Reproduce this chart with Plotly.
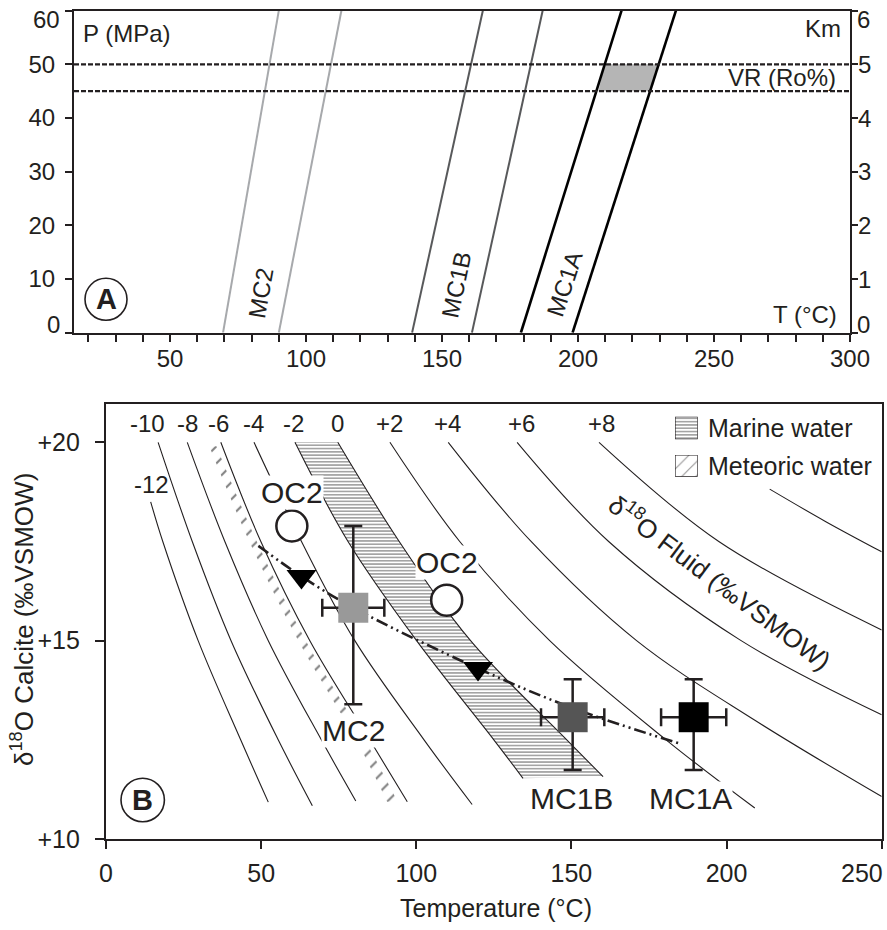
import plotly.graph_objects as go

W, H = 887, 930
FONT = "Liberation Sans, Arial, Helvetica, sans-serif"
INK = "#231f20"


def fx(x):
    return x / W


def fy(y):
    return 1 - y / H


# ---------------- Panel A data ----------------
A_T_tickvals = list(range(20, 301, 10))
A_T_ticktext = [str(v) if v % 50 == 0 else "" for v in A_T_tickvals]
A_P_ticks = [0, 10, 20, 30, 40, 50, 60]
A_P_ticktext = ["", "10", "20", "30", "40", "50", ""]
A_Km_ticks = [0, 1, 2, 3, 4, 5, 6]
A_Km_ticktext = ["", "1", "2", "3", "4", "5", ""]

geo_P = [0, 60]
mc2_T_lo = [69.5, 90.0]
mc2_T_hi = [90.0, 113.0]
mc1b_T_lo = [139.0, 165.0]
mc1b_T_hi = [161.0, 187.0]
mc1a_T_lo = [179.0, 216.0]
mc1a_T_hi = [198.0, 236.0]

vr_P = [45, 50]
vr_fill_T = [207.5, 226.5, 229.7, 209.8]
vr_fill_P = [45, 45, 50, 50]

# ---------------- Panel B data ----------------
B_T_ticks = [0, 50, 100, 150, 200, 250]
B_T_ticktext = ["0", "50", "100", "150", "200", ""]
B_d_ticks = [10, 15, 20]
B_d_ticktext = ["+10", "+15", "+20"]

# delta18O fluid iso-lines: temperature / calcite d18O
iso_m12_T = [14.4, 18.3, 29.7, 43.4, 52.3]
iso_m12_d = [18.5, 17.5, 15.0, 12.5, 10.93]
iso_m10_T = [16.8, 27.8, 40.3, 55.5, 66.5]
iso_m10_d = [20.0, 17.5, 15.0, 12.5, 10.84]
iso_m8_T = [26.2, 38.3, 52.3, 69.4, 80.5]
iso_m8_d = [20.0, 17.5, 15.0, 12.5, 10.96]
iso_m6_T = [37.0, 49.9, 65.7, 85.0, 97.1]
iso_m6_d = [20.0, 17.5, 15.0, 12.5, 10.94]
iso_m4_T = [47.7, 63.0, 80.2, 102.5, 118.0]
iso_m4_d = [20.0, 17.5, 15.0, 12.5, 10.87]
iso_m2_T = [60.9, 78.0, 100.1, 125.0, 134.4]
iso_m2_d = [20.0, 17.5, 15.0, 12.5, 11.53]
iso_0_T = [74.7, 94.5, 117.5, 148.5, 160.2]
iso_0_d = [20.0, 17.5, 15.0, 12.5, 11.57]
iso_p2_T = [91.5, 114.0, 143.0, 180.5, 209.1]
iso_p2_d = [20.0, 17.5, 15.0, 12.5, 10.78]
iso_p4_T = [110.3, 137.0, 171.0, 209.0, 250.0]
iso_p4_d = [20.0, 17.5, 15.0, 13.0, 11.07]
iso_p6_T = [132.5, 162.0, 204.3, 250.0]
iso_p6_d = [20.0, 17.5, 15.02, 13.13]
iso_p8_T = [158.9, 197.5, 250.0]
iso_p8_d = [20.0, 17.5, 15.27]
iso_p10_T = [213.9, 232.0, 250.0]
iso_p10_d = [18.82, 18.0, 17.24]

iso_labels = ["-10", "-8", "-6", "-4", "-2", "0", "+2", "+4", "+6", "+8"]
iso_label_T = [13.5, 26.3, 36.4, 47.4, 60.3, 74.7, 91.5, 109.9, 133.9, 159.7]
iso_label_d = 20.48

# meteoric water band (narrow strip of hatch marks left of the -6 line)
met_d = [19.9, 17.5, 15.0, 12.5, 10.94]
met_left_T = [33.3, 46.2, 62.0, 80.6, 90.6]
met_right_T = [35.6, 48.6, 64.4, 83.4, 94.0]

# samples
mc_names = ["MC2", "MC1B", "MC1A"]
mc_T = [79.7, 150.4, 189.4]
mc_d = [15.83, 13.07, 13.07]
mc_T_err = [10.0, 10.2, 10.5]
mc_d_err_plus = [2.06, 0.96, 0.96]
mc_d_err_minus = [2.43, 1.33, 1.33]
mc_colors = ["#999999", "#555555", "#000000"]
mc_label_T = [79.7, 150.1, 188.4]
mc_label_d = [12.73, 11.01, 11.01]

oc_T = [59.9, 109.8]
oc_d = [17.89, 16.02]
oc_label_T = [59.8, 110.0]
oc_label_d = [18.73, 16.96]

path_T = [49.1, 63.0, 79.7, 119.9, 150.4, 185.5]
path_d = [17.39, 16.62, 15.83, 14.30, 13.30, 12.39]
arrow_T = [63.0, 119.9]
arrow_d = [16.62, 14.30]

legend_box_x = [0, 1, 1, 0, 0]
legend_box_y = [0, 0, 1, 1, 0]

MARINE_PATTERN = dict(shape="-", size=3.3, solidity=0.42, fgcolor="#262626")
METEORIC_PATTERN = dict(shape="/", size=12, solidity=0.17, fgcolor="#000000")
METEORIC_LEGEND_PATTERN = dict(shape="/", size=10, solidity=0.1, fgcolor=INK)

fig = go.Figure()

# ---------- Panel A traces ----------
fig.add_trace(go.Scatter(x=vr_fill_T, y=vr_fill_P, fill="toself", fillcolor="#b5b5b5",
                         mode="lines", line=dict(width=0), xaxis="x", yaxis="y"))
for T, col, wd in [(mc2_T_lo, "#a7a9ac", 2), (mc2_T_hi, "#a7a9ac", 2),
                   (mc1b_T_lo, "#58595b", 2), (mc1b_T_hi, "#58595b", 2),
                   (mc1a_T_lo, "#000000", 2.6), (mc1a_T_hi, "#000000", 2.6)]:
    fig.add_trace(go.Scatter(x=T, y=geo_P, mode="lines", line=dict(color=col, width=wd),
                             xaxis="x", yaxis="y"))
# invisible trace on the Km axis so it is laid out with data
fig.add_trace(go.Scatter(x=[None], y=[None], mode="lines", xaxis="x", yaxis="y2",
                         showlegend=False))

# ---------- Panel B traces ----------
XB, YB = "x2", "y3"
fig.add_trace(go.Scatter(x=met_left_T, y=met_d, mode="lines", line=dict(width=0, shape="spline"),
                         xaxis=XB, yaxis=YB))
fig.add_trace(go.Scatter(x=met_right_T, y=met_d, mode="lines", line=dict(width=0, shape="spline"),
                         fill="tonexty", fillcolor="rgba(255,255,255,0)",
                         fillpattern=METEORIC_PATTERN, xaxis=XB, yaxis=YB))

iso_list = [(iso_m12_T, iso_m12_d), (iso_m10_T, iso_m10_d), (iso_m8_T, iso_m8_d),
            (iso_m6_T, iso_m6_d), (iso_m4_T, iso_m4_d), (iso_m2_T, iso_m2_d),
            (iso_0_T, iso_0_d), (iso_p2_T, iso_p2_d), (iso_p4_T, iso_p4_d),
            (iso_p6_T, iso_p6_d), (iso_p8_T, iso_p8_d), (iso_p10_T, iso_p10_d)]
for T, d in iso_list:
    kw = {}
    if T is iso_0_T:
        kw = dict(fill="tonexty", fillcolor="rgba(255,255,255,0)", fillpattern=MARINE_PATTERN)
    fig.add_trace(go.Scatter(x=T, y=d, mode="lines", line=dict(color=INK, width=1.1, shape="spline"),
                             xaxis=XB, yaxis=YB, **kw))

fig.add_trace(go.Scatter(x=path_T, y=path_d, mode="lines",
                         line=dict(color=INK, width=2.6, shape="spline",
                                   dash="12px,4px,2px,4px,2px,4px"),
                         xaxis=XB, yaxis=YB))
fig.add_trace(go.Scatter(x=arrow_T, y=arrow_d, mode="markers",
                         marker=dict(symbol="triangle-down", size=26, color="#000000"),
                         xaxis=XB, yaxis=YB))

for i in range(len(mc_names)):
    fig.add_trace(go.Scatter(
        x=[mc_T[i]], y=[mc_d[i]], mode="markers",
        marker=dict(symbol="square", size=30, color=mc_colors[i], line=dict(width=0)),
        error_x=dict(type="data", array=[mc_T_err[i]], color=INK, thickness=2.5, width=9),
        error_y=dict(type="data", symmetric=False, array=[mc_d_err_plus[i]],
                     arrayminus=[mc_d_err_minus[i]], color=INK, thickness=2.5, width=9),
        xaxis=XB, yaxis=YB))

fig.add_trace(go.Scatter(x=oc_T, y=oc_d, mode="markers",
                         marker=dict(symbol="circle", size=31, color="white",
                                     line=dict(color=INK, width=2.5)),
                         xaxis=XB, yaxis=YB))

fig.add_trace(go.Scatter(x=legend_box_x, y=legend_box_y, mode="lines", fill="toself",
                         fillcolor="white", line=dict(color=INK, width=1.2),
                         fillpattern=MARINE_PATTERN, xaxis="x4", yaxis="y5"))
fig.add_trace(go.Scatter(x=legend_box_x, y=legend_box_y, mode="lines", fill="toself",
                         fillcolor="white", line=dict(color=INK, width=1.2),
                         fillpattern=METEORIC_LEGEND_PATTERN, xaxis="x5", yaxis="y6"))

# ---------- Layout ----------
tickfontA = dict(family=FONT, size=24, color=INK)
tickfontB = dict(family=FONT, size=25, color=INK)

xA = [fx(74), fx(850)]
yA = [fy(332.7), fy(10.7)]
xBd = [fx(106), fx(881.7)]
yBd = [fy(839), fy(404)]

hidden = dict(visible=False, range=[0, 1], fixedrange=True, automargin=False)
common = dict(showgrid=False, zeroline=False, automargin=False, tickcolor=INK,
              ticklabeloverflow="allow")

layout = dict(
    width=W, height=H, margin=dict(l=0, r=0, t=0, b=0, autoexpand=False),
    paper_bgcolor="white", plot_bgcolor="rgba(0,0,0,0)",
    showlegend=False, hovermode=False,
    font=dict(family=FONT, color=INK),
    xaxis=dict(domain=xA, range=[14.7, 300], anchor="y", tickmode="array",
               tickvals=A_T_tickvals, ticktext=A_T_ticktext, ticks="outside", ticklen=7,
               tickwidth=2, showline=True, linewidth=2, linecolor=INK,
               mirror=True, tickfont=tickfontA, ticklabelstandoff=-4, **common),
    yaxis=dict(domain=yA, range=[0, 60], anchor="x", tickmode="array", tickvals=A_P_ticks,
               ticktext=A_P_ticktext, ticks="outside", ticklen=7, tickwidth=2, showline=True,
               linewidth=2, linecolor=INK, mirror=True, tickfont=tickfontA,
               ticklabelstandoff=5, **common),
    yaxis2=dict(overlaying="y", side="right", anchor="x", range=[0, 6], tickmode="array",
                tickvals=A_Km_ticks, ticktext=["", "", "", "", "", "", ""], ticks="outside",
                ticklen=7, tickwidth=2, showline=False, tickfont=tickfontA, **common),
    xaxis2=dict(domain=xBd, range=[0, 250], anchor="y3", tickmode="array", tickvals=B_T_ticks,
                ticktext=B_T_ticktext, ticks="outside", ticklen=8, tickwidth=2, showline=True,
                linewidth=2.2, linecolor=INK, mirror=True, tickfont=tickfontB,
                ticklabelstandoff=3, **common),
    yaxis3=dict(domain=yBd, range=[10, 20.966], anchor="x2", tickmode="array",
                tickvals=B_d_ticks, ticktext=B_d_ticktext, ticks="outside", ticklen=9,
                tickwidth=2, showline=True, linewidth=2.2, linecolor=INK,
                mirror=True, tickfont=tickfontB, ticklabelstandoff=10, **common),
    xaxis3=dict(overlaying="x2", anchor="y3", range=[0, 250], tickmode="array",
                tickvals=B_T_ticks, ticks="inside", ticklen=9, tickwidth=2,
                showticklabels=False, showline=False, **common),
    yaxis4=dict(overlaying="y3", anchor="x2", side="left", range=[10, 20.966],
                tickmode="array", tickvals=B_d_ticks, ticks="inside", ticklen=9,
                tickwidth=2, showticklabels=False, showline=False, **common),
    xaxis4=dict(domain=[fx(675), fx(697.7)], anchor="y5", **hidden),
    yaxis5=dict(domain=[fy(439.3), fy(416.7)], anchor="x4", **hidden),
    xaxis5=dict(domain=[fx(675), fx(697.7)], anchor="y6", **hidden),
    yaxis6=dict(domain=[fy(476.7), fy(455)], anchor="x5", **hidden),
)
fig.update_layout(**layout)

for p in vr_P:
    fig.add_shape(type="line", xref="x domain", yref="y", x0=0, x1=1, y0=p, y1=p,
                  line=dict(color=INK, width=2.2, dash="5px,2px"))

for cx, cy, r in [(106, 299.3, 21), (142.7, 800, 21.7)]:
    fig.add_shape(type="circle", xref="paper", yref="paper",
                  x0=fx(cx - r), x1=fx(cx + r), y0=fy(cy + r), y1=fy(cy - r),
                  line=dict(color=INK, width=1.6))

ann = []


def text_paper(t, x, y, size, xanchor="center", yanchor="middle", angle=0, bg=None, bold=False):
    d = dict(text=("<b>%s</b>" % t) if bold else t, x=fx(x), y=fy(y), xref="paper", yref="paper",
             showarrow=False, xanchor=xanchor, yanchor=yanchor, textangle=angle,
             font=dict(family=FONT, size=size, color=INK), borderpad=0)
    if bg:
        d["bgcolor"] = bg
    ann.append(d)


def text_data(t, x, y, size, bg=None, angle=0):
    d = dict(text=t, x=x, y=y, xref="x2", yref="y3", showarrow=False, xanchor="center",
             yanchor="middle", textangle=angle, font=dict(family=FONT, size=size, color=INK),
             borderpad=0)
    if bg:
        d["bgcolor"] = bg
    ann.append(d)


# Km axis labels (right side of panel A)
for v, lab in zip(A_Km_ticks, A_Km_ticktext):
    if lab:
        ann.append(dict(text=lab, x=fx(856), y=v, xref="paper", yref="y2", showarrow=False,
                        xanchor="left", yanchor="middle",
                        font=dict(family=FONT, size=24, color=INK)))

# end-of-axis tick labels, nudged inside as in the original
text_paper("60", 61, 20, 24, xanchor="right")
text_paper("0", 61, 324.5, 24, xanchor="right")
text_paper("6", 856, 20, 24, xanchor="left")
text_paper("0", 856, 324.5, 24, xanchor="left")
text_paper("250", 884, 873, 25, xanchor="right")

# panel A texts
text_paper("P (MPa)", 81.7, 33, 24, xanchor="left")
text_paper("Km", 842, 28, 24, xanchor="right")
text_paper("VR (Ro%)", 837, 78, 24, xanchor="right")
text_paper("T (°C)", 838, 314, 24, xanchor="right")
text_paper("MC2", 260.8, 292.5, 24, angle=-80)
text_paper("MC1B", 456, 284, 24, angle=-78)
text_paper("MC1A", 564, 284, 24, angle=-72)
text_paper("A", 106, 299.3, 29, bold=True)

# panel B texts
for lab, t in zip(iso_labels, iso_label_T):
    text_data(lab, t, iso_label_d, 24)
text_data("-12", 14.8, 18.94, 24)
for i in range(2):
    text_data("OC2", oc_label_T[i], oc_label_d[i], 30, bg="white")
for i in range(3):
    text_data(mc_names[i], mc_label_T[i], mc_label_d[i], 30, bg="white")
text_data("δ<sup>18</sup>O Fluid (‰VSMOW)", 197.8, 16.48, 26, angle=37)
text_paper("Marine water", 706.7, 428.3, 25, xanchor="left")
text_paper("Meteoric water", 706.7, 466, 25, xanchor="left")
text_paper("B", 142.7, 800, 29, bold=True)
text_paper("δ<sup>18</sup>O Calcite (‰VSMOW)", 22, 620, 26, angle=-90)
text_paper("Temperature (°C)", 496, 908, 25)

fig.update_layout(annotations=ann)

fig.write_html("out.html", config=dict(displayModeBar=False),
               post_script="document.body.style.margin='0';")
